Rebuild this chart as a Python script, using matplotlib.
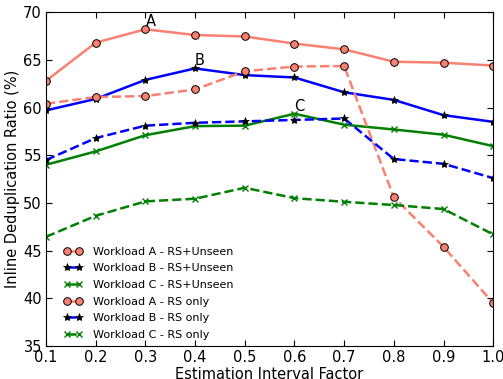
import matplotlib
matplotlib.use("Agg")
import matplotlib.pyplot as plt

x = [0.1, 0.2, 0.3, 0.4, 0.5, 0.6, 0.7, 0.8, 0.9, 1.0]
a_unseen = [62.8, 66.8, 68.2, 67.6, 67.45, 66.7, 66.1, 64.8, 64.7, 64.4]
b_unseen = [59.7, 60.9, 62.9, 64.1, 63.4, 63.15, 61.6, 60.8, 59.2, 58.5]
c_unseen = [54.0, 55.4, 57.1, 58.05, 58.1, 59.35, 58.2, 57.7, 57.15, 55.95]
a_rs = [60.4, 61.1, 61.2, 61.9, 63.8, 64.3, 64.35, 50.6, 45.4, 39.5]
b_rs = [54.5, 56.8, 58.1, 58.4, 58.55, 58.7, 58.85, 54.6, 54.1, 52.6]
c_rs = [46.45, 48.65, 50.16, 50.44, 51.59, 50.5, 50.12, 49.78, 49.36, 46.7]
labels = ["Workload A - RS+Unseen", "Workload B - RS+Unseen", "Workload C - RS+Unseen",
          "Workload A - RS only", "Workload B - RS only", "Workload C - RS only"]
annots = [("A", 0.3, 68.2), ("B", 0.4, 64.1), ("C", 0.6, 59.35)]

fig = plt.figure(figsize=(5.03, 3.79), dpi=100)
ax = fig.add_axes([0.0915, 0.087, 0.889, 0.881])

salmon = "#FA8072"
lw = 1.8
ax.plot(x, a_unseen, "-", color=salmon, lw=lw, marker="o", ms=5.5, mfc=salmon, mec="black", mew=0.7, label=labels[0])
ax.plot(x, b_unseen, "-", color="blue", lw=lw, marker="*", ms=6, mfc="black", mec="black", mew=0.5, label=labels[1])
ax.plot(x, c_unseen, "-", color="green", lw=lw, marker="x", ms=5, mec="green", mew=1, label=labels[2])
ax.plot(x, a_rs, "--", color=salmon, lw=lw, marker="o", ms=5.5, mfc=salmon, mec="black", mew=0.7, label=labels[3])
ax.plot(x, b_rs, "--", color="blue", lw=lw, marker="*", ms=6, mfc="black", mec="black", mew=0.5, label=labels[4])
ax.plot(x, c_rs, "--", color="green", lw=lw, marker="x", ms=5, mec="green", mew=1, label=labels[5])

for t, xx, yy in annots:
    ax.text(xx, yy, t, fontsize=10.5, ha="left", va="bottom")

ax.set_xlim(0.1, 1.0)
ax.set_ylim(35, 70)
ax.set_xticks(x)
ax.set_xticklabels(["%.1f" % v for v in x])
ax.set_yticks([35, 40, 45, 50, 55, 60, 65, 70])
ax.tick_params(direction="in", top=True, right=True, labelsize=10.5, length=4, pad=3)
ax.set_xlabel("Estimation Interval Factor", fontsize=10.5, labelpad=1)
ax.set_ylabel("Inline Deduplication Ratio (%)", fontsize=10.5, labelpad=2)
ax.legend(loc="lower left", frameon=False, fontsize=8, numpoints=2, handlelength=1.7,
          handletextpad=0.9, labelspacing=0.6, borderaxespad=0.0, bbox_to_anchor=(0.03, 0.005))

fig.savefig("out.png", dpi=100)
